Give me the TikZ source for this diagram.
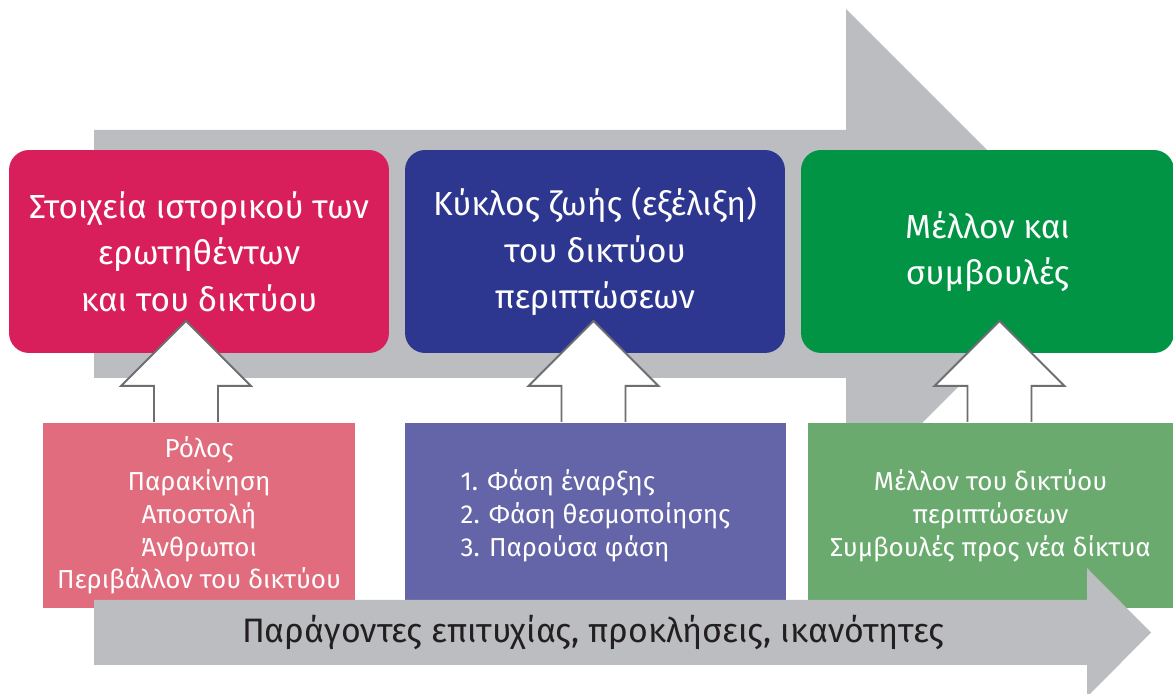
\documentclass[tikz,border=0pt]{standalone}
\usepackage{fontspec}
\setmainfont{Fira Sans}
\usetikzlibrary{calc}
\definecolor{cgrey}{HTML}{BCBDC0}
\definecolor{cline}{HTML}{6D6E71}
\definecolor{cred}{HTML}{D81E5B}
\definecolor{cblue}{HTML}{2E3790}
\definecolor{cgreen}{HTML}{009444}
\definecolor{cpink}{HTML}{E06C7D}
\definecolor{cviolet}{HTML}{6464A8}
\definecolor{cleaf}{HTML}{6AAA6E}
\definecolor{cink}{HTML}{231F20}
\tikzset{
  every picture/.style={line width=1.2pt},
  stage/.style={fill=#1, rounded corners=0.4cm, align=center, text=white, inner sep=0pt, minimum height=4.06cm, font=\fontsize{19}{26.5}\selectfont},
  detail/.style={fill=#1, align=center, text=white, inner sep=0pt, minimum height=3.7cm, font=\fontsize{14.8}{18.7}\selectfont},
  band/.style={fill=cgrey, draw=none},
  lift/.style={fill=white, draw=cline, line width=1.1pt, line join=miter},
}

\begin{document}
\begin{tikzpicture}[x=0.02cm, y=0.02cm]
  \useasboundingbox (0,0) rectangle (1173,693);
  % big arrow behind the stages
  \fill[band] (94,315) -- (94,563) -- (846,563) -- (846,684) -- (1091,439) -- (846,194) -- (846,315) -- cycle;
  % stages
  \node[stage=cred, minimum width=7.6cm] (s1) at (199,441.5) {Στοιχεία ιστορικού των\\ερωτηθέντων\\και του δικτύου};
  \node[stage=cblue, minimum width=7.6cm] (s2) at (595,441.5) {Κύκλος ζωής (εξέλιξη)\\του δικτύου\\περιπτώσεων};
  \node[stage=cgreen, minimum width=7.46cm] (s3) at (987.5,441.5) {Μέλλον και\\συμβουλές};
  % details under each stage
  \node[detail=cpink, minimum width=6.24cm] (d1) at (199,177.5) {Ρόλος\\Παρακίνηση\\Αποστολή\\Άνθρωποι\\Περιβάλλον του δικτύου};
  \node[detail=cviolet, minimum width=7.62cm, align=left] (d2) at (595.5,177.5) {1. Φάση έναρξης\\2. Φάση θεσμοποίησης\\3. Παρούσα φάση};
  \node[detail=cleaf, minimum width=7.32cm] (d3) at (990.5,177.5) {Μέλλον του δικτύου\\περιπτώσεων\\Συμβουλές προς νέα δίκτυα};
  % white block arrows up
  \foreach \i/\dx in {1/-13, 2/-2, 3/9} {
    \filldraw[lift] ($(d\i.north)+(\dx-32,0)$) -- ++(0,36) -- ++(-33,0) -- ($(d\i.north)+(\dx,101)$)
      -- ($(d\i.north)+(\dx+65,36)$) -- ++(-33,0) -- ++(0,-36);
  }
  % bottom arrow
  \fill[band] (94,28) -- (94,93) -- (1087,93) -- (1087,125) -- (1151,60.5) -- (1087,-4) -- (1087,28) -- cycle;
  \node[font=\fontsize{19.3}{22}\selectfont, text=cink] (f) at (593,61) {Παράγοντες επιτυχίας, προκλήσεις, ικανότητες};
\end{tikzpicture}
\end{document}
